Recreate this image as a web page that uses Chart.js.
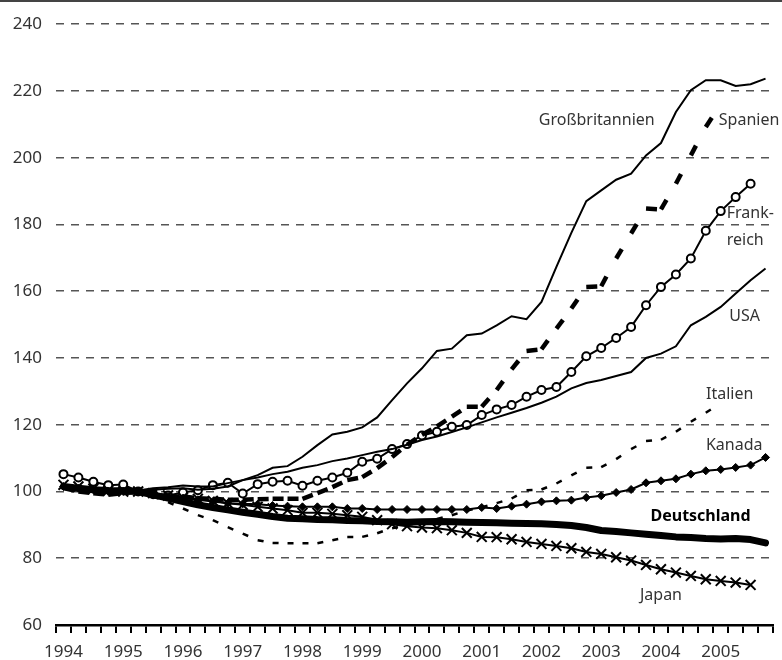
<!DOCTYPE html>
<html>
<head>
<meta charset="utf-8">
<script src="https://cdn.jsdelivr.net/npm/chart.js@4.4.1/dist/chart.umd.min.js"></script>
<style>
  html, body { margin: 0; padding: 0; background: #fff; }
  canvas { display: block; }
</style>
</head>
<body>
<canvas id="chart" width="782" height="660"></canvas>
<script>
// Jahre der x-Achse, je 4 Quartale
const years = [1994, 1995, 1996, 1997, 1998, 1999, 2000, 2001, 2002, 2003, 2004, 2005];
const yTicks = [60, 80, 100, 120, 140, 160, 180, 200, 220, 240];

// Quartalswerte, Index
const grossbritannien = [101.5, 101, 100.5, 100, 100, 100, 100.5, 100.8, 101, 100.5, 100.8, 101.5,
  103.4, 104.9, 107.1, 107.6, 110.4, 113.9, 117.1, 117.9, 119.2, 122.2, 127.4, 132.4,
  136.9, 142.1, 142.8, 146.8, 147.3, 149.8, 152.5, 151.6, 156.8, 167.3, 177.5, 187.0,
  190.2, 193.4, 195.2, 200.7, 204.4, 213.7, 220.2, 223.2, 223.2, 221.5, 222.0, 223.7];
const spanien = [101, 100, 99.5, 99, 99.5, 100, 99, 98.5, 98.5, 98, 97.8, 97.5,
  97.5, 97.7, 97.8, 97.8, 97.8, 99.5, 101.3, 103.4, 104.3, 107.0, 110.3, 114,
  117, 119.5, 122.4, 125.4, 125.4, 130.4, 136.6, 142.1, 142.6, 148.8, 154.8, 161.3,
  161.5, 169.8, 177.3, 184.8, 184.5, 192.2, 200.7, 209.2, 216, null, null, null];
const frankreich = [105.2, 104.2, 102.9, 101.9, 102.1, 100, 99.2, 98.8, 99.7, 100.4, 101.9, 102.6,
  99.4, 102.2, 102.9, 103.2, 101.7, 103.2, 104.2, 105.6, 108.9, 109.8, 112.7, 114.2,
  116.8, 117.9, 119.4, 119.9, 122.9, 124.6, 125.9, 128.4, 130.4, 131.3, 135.8, 140.5,
  143.0, 146.0, 149.3, 155.8, 161.3, 165.0, 169.8, 178.1, 184.0, 188.2, 192.2, null];
const usa = [101, 100.5, 100, 99.8, 100, 100.3, 101, 101.3, 101.8, 101.5, 101.5, 102.5,
  103.4, 104.2, 105.2, 105.9, 107.1, 107.9, 109.1, 109.9, 110.9, 111.9, 112.7, 114.0,
  115.4, 116.5, 117.8, 119.2, 120.7, 122.2, 123.6, 125.0, 126.6, 128.4, 130.9, 132.5,
  133.4, 134.6, 135.8, 140.0, 141.3, 143.5, 149.8, 152.3, 155.3, 159.3, 163.3, 166.8];
const italien = [101, 100.5, 100, 99.8, 100.2, 100, 98.5, 96.8, 94.9, 92.9, 91.4, 89.3,
  87.4, 85.4, 84.6, 84.5, 84.5, 84.5, 85.4, 86.4, 86.4, 87.5, 89.0, 89.9,
  90.8, 91.8, 92.9, 94.3, 95.3, 96.5, 97.9, 100.4, 100.6, 102.4, 104.8, 107.1,
  107.3, 109.7, 112.7, 115.1, 115.5, 117.9, 120.9, 123.6, 126.5, null, null, null];
const kanada = [101.5, 101, 100.5, 100, 100, 100, 99, 98.5, 98, 97.5, 97, 96.5,
  96.3, 96.2, 95.8, 95.6, 95.4, 95.4, 95.4, 94.9, 94.9, 94.6, 94.6, 94.6,
  94.6, 94.6, 94.6, 94.6, 95.2, 94.9, 95.6, 96.2, 96.9, 97.2, 97.4, 98.2,
  98.7, 99.7, 100.6, 102.6, 103.2, 103.8, 105.2, 106.2, 106.6, 107.2, 107.9, 110.2];
const deutschland = [101.5, 101, 100.5, 100.3, 100.2, 100, 99, 98, 97, 96, 95.2, 94.5,
  93.8, 93.2, 92.5, 92.0, 91.8, 91.6, 91.5, 91.3, 91.2, 91.0, 90.9, 90.8,
  90.9, 91.0, 90.9, 90.8, 90.7, 90.6, 90.5, 90.4, 90.3, 90.1, 89.8, 89.2,
  88.3, 88.0, 87.6, 87.2, 86.8, 86.4, 86.2, 85.9, 85.8, 85.9, 85.6, 84.6];
const japan = [102, 101.5, 100.8, 100.3, 100, 100, 99.5, 98.8, 98.2, 97.8, 97.2, 96.5,
  96.0, 95.4, 94.9, 94.4, 93.6, 93.6, 93.3, 92.9, 92.4, 91.4, 90.2, 89.6,
  89.2, 89.0, 88.4, 87.6, 86.4, 86.3, 85.7, 84.9, 84.3, 83.7, 83.0, 81.9,
  81.3, 80.3, 79.3, 78.0, 76.7, 75.7, 74.7, 73.7, 73.2, 72.7, 72.0, null];

// Beschriftungen an den Linien (Position in Quartal / Indexwert)
const seriesLabels = [
  { text: 'Großbritannien', q: 35.7, v: 211.2, align: 'center' },
  { text: 'Spanien', q: 45.9, v: 211.2, align: 'center' },
  { text: 'Frank-', q: 44.4, v: 183.4, align: 'left' },
  { text: 'reich', q: 44.4, v: 175.3, align: 'left' },
  { text: 'USA', q: 45.6, v: 152.5, align: 'center' },
  { text: 'Italien', q: 44.6, v: 129.2, align: 'center' },
  { text: 'Kanada', q: 44.9, v: 113.9, align: 'center' },
  { text: 'Deutschland', q: 42.65, v: 92.6, align: 'center', bold: true },
  { text: 'Japan', q: 40.0, v: 69.0, align: 'center' }
];

const labels = [];
years.forEach(y => {
  labels.push(String(y), '', '', '');
});

const FONT = "'Noto Sans', 'DejaVu Sans', sans-serif";

// jedes Segment einzeln stricheln (ein Strich je Quartal)
const perSegment = { borderDashOffset: ctx => (ctx.p0DataIndex % 2 ? 0.001 : 0) };

const lineLabels = {
  id: 'lineLabels',
  afterDatasetsDraw(chart) {
    const { ctx, scales: { x, y } } = chart;
    ctx.save();
    ctx.textBaseline = 'middle';
    seriesLabels.forEach(l => {
      ctx.font = (l.bold ? 'bold ' : '') + '16px ' + FONT;
      ctx.fillStyle = l.bold ? '#000' : '#333';
      ctx.textAlign = l.align;
      ctx.fillText(l.text, x.getPixelForValue(l.q), y.getPixelForValue(l.v));
    });
    ctx.restore();
  }
};

const topRule = {
  id: 'topRule',
  afterDraw(chart) {
    const ctx = chart.ctx;
    ctx.save();
    ctx.fillStyle = '#444';
    ctx.fillRect(0, 0, chart.width, 2);
    ctx.restore();
  }
};

const ctx = document.getElementById('chart').getContext('2d');
new Chart(ctx, {
  type: 'line',
  data: {
    labels: labels,
    datasets: [
      { label: 'Italien', data: italien, borderColor: '#000', borderWidth: 2.5,
        borderDash: [6, 40], segment: perSegment, pointRadius: 0 },
      { label: 'Spanien', data: spanien, borderColor: '#000', borderWidth: 4.5,
        borderDash: [11, 40], segment: perSegment, pointRadius: 0 },
      { label: 'Großbritannien', data: grossbritannien, borderColor: '#000', borderWidth: 2,
        pointRadius: 0 },
      { label: 'USA', data: usa, borderColor: '#000', borderWidth: 2, pointRadius: 0 },
      { label: 'Japan', data: japan, borderColor: '#000', borderWidth: 2,
        pointStyle: 'crossRot', pointRadius: 7, pointBorderWidth: 2, pointBorderColor: '#000' },
      { label: 'Deutschland', data: deutschland, borderColor: '#000', borderWidth: 7,
        borderCapStyle: 'round', borderJoinStyle: 'round', pointRadius: 0 },
      { label: 'Kanada', data: kanada, borderColor: '#000', borderWidth: 2,
        pointStyle: 'rectRot', pointRadius: 4, pointBackgroundColor: '#000', pointBorderColor: '#000',
        pointBorderWidth: 1 },
      { label: 'Frankreich', data: frankreich, borderColor: '#000', borderWidth: 2,
        pointStyle: 'circle', pointRadius: 4, pointBorderWidth: 2,
        pointBackgroundColor: '#fff', pointBorderColor: '#000' }
    ]
  },
  options: {
    responsive: false,
    animation: false,
    layout: { padding: { top: 23, right: 3, left: 0, bottom: 0 } },
    elements: { line: { tension: 0, fill: false } },
    plugins: {
      legend: { display: false },
      tooltip: { enabled: false }
    },
    scales: {
      x: {
        type: 'category',
        offset: true,
        grid: { offset: true, drawOnChartArea: false, drawTicks: true, tickLength: 8,
          color: '#000', lineWidth: 2 },
        border: { color: '#000', width: 2.5 },
        ticks: { autoSkip: false, maxRotation: 0, padding: 9, color: '#333',
          font: { family: FONT, size: 17 } },
        afterFit: s => { s.height = 35; }
      },
      y: {
        min: yTicks[0],
        max: yTicks[yTicks.length - 1],
        afterBuildTicks: s => { s.ticks = yTicks.map(v => ({ value: v })); },
        grid: { color: '#555', lineWidth: 1.5, drawTicks: false },
        border: { display: false, dash: [8, 7] },
        ticks: { padding: 14, color: '#333', font: { family: FONT, size: 17 } },
        afterFit: s => { s.width = 56; }
      }
    }
  },
  plugins: [lineLabels, topRule]
});
</script>
</body>
</html>
